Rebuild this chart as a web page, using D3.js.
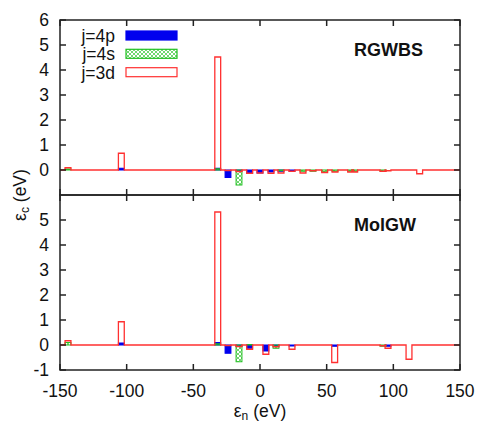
<!DOCTYPE html>
<html><head><meta charset="utf-8">
<script src="https://cdn.jsdelivr.net/npm/d3@7"></script>
<style>body{margin:0;background:#fff}svg{display:block}text{font-family:"Liberation Sans",Arial,sans-serif}</style>
</head><body><svg id="c" width="479" height="425"></svg>
<script>
// ---- data ----
const seriesNames = ["j=4p","j=4s","j=3d"];
const xTicks = [-150,-100,-50,0,50,100,150];
const yTicksTop = [0,1,2,3,4,5,6];
const yTicksBottom = [-1,0,1,2,3,4,5];
const boxWidth = 4.4; // eV

// RGWBS panel
const topEnergy = [-144,-104,-31.7,-24,-15.75,-7.75,0,8.25,15.75,24,32.25,39.75,48.5,56.25,68,71,92.25,96,119.75];
const top4p =     [0,0.07,0.07,-0.3,-0.04,-0.13,-0.12,-0.08,-0.05,-0.05,0,0,0,0,0,0,0,0,0];
const top4s =     [0.04,0,0.05,0,-0.6,0,0,0,-0.03,0,-0.05,-0.05,-0.07,-0.05,-0.05,-0.05,-0.05,0,0];
const top3d =     [0.09,0.67,4.52,-0.02,-0.06,-0.13,-0.12,-0.13,-0.12,-0.05,-0.12,-0.03,-0.1,-0.08,-0.08,-0.08,-0.05,-0.03,-0.15];

// MolGW panel
const botEnergy = [-144,-104,-31.7,-24,-15.75,-7.75,4.4,12,24,56,92.25,96,111.75];
const bot4p =     [0,0.08,0.1,-0.33,-0.05,-0.13,-0.24,-0.03,-0.04,-0.05,0,-0.05,0];
const bot4s =     [0.1,0,0.05,0,-0.67,0.02,0,-0.13,0,0,-0.05,0,0];
const bot3d =     [0.17,0.93,5.32,-0.02,-0.06,-0.17,-0.37,-0.07,-0.17,-0.7,-0.03,-0.13,-0.57];

const panelLabels = ["RGWBS","MolGW"];

// ---- drawing ----
const svg = d3.select("#c");
const L=60, R=460;
const x = d3.scaleLinear([-150,150],[L,R]);
const panels = [
  {y: d3.scaleLinear([-1,6],[195,20]), e: topEnergy, p: top4p, s: top4s, d: top3d, ticks: yTicksTop, label: panelLabels[0], legend: true},
  {y: d3.scaleLinear([-1,6],[370,195]), e: botEnergy, p: bot4p, s: bot4s, d: bot3d, ticks: yTicksBottom, label: panelLabels[1], legend: false}
];
const BLUE="#0000ee", GREEN="#20c020", RED="#ff3030", AX="#222";

const defs = svg.append("defs");
const pat = defs.append("pattern").attr("id","xh").attr("patternUnits","userSpaceOnUse")
  .attr("width",4).attr("height",4);
pat.append("path").attr("d","M0,0L4,4M4,0L0,4").attr("stroke",GREEN).attr("stroke-width",0.8).attr("stroke-opacity",0.8);

panels.forEach(P => {
  const y = P.y;
  const g = svg.append("g");
  const idx = d3.range(P.e.length);
  // 4p boxes
  g.selectAll(null).data(idx.filter(i=>P.p[i]!==0)).join("rect")
    .attr("x", i=>x(P.e[i]-boxWidth/2)).attr("width", i=>x(P.e[i]+boxWidth/2)-x(P.e[i]-boxWidth/2))
    .attr("y", i=>Math.min(y(0),y(P.p[i]))).attr("height", i=>Math.abs(y(P.p[i])-y(0)))
    .attr("fill",BLUE).attr("stroke",BLUE).attr("stroke-width",1);
  // 4s boxes
  g.selectAll(null).data(idx.filter(i=>P.s[i]!==0)).join("rect")
    .attr("x", i=>x(P.e[i]-boxWidth/2)).attr("width", i=>x(P.e[i]+boxWidth/2)-x(P.e[i]-boxWidth/2))
    .attr("y", i=>Math.min(y(0),y(P.s[i]))).attr("height", i=>Math.abs(y(P.s[i])-y(0)))
    .attr("fill","url(#xh)").attr("stroke",GREEN).attr("stroke-width",1);
  // 3d outline (step path over all boxes)
  const pts = [[-150,0]];
  idx.forEach(i=>{
    const a=P.e[i]-boxWidth/2, b=P.e[i]+boxWidth/2, v=P.d[i];
    pts.push([a,0],[a,v],[b,v],[b,0]);
  });
  pts.push([150,0]);
  g.append("path").attr("d", d3.line().x(d=>x(d[0])).y(d=>y(d[1]))(pts))
    .attr("fill","none").attr("stroke",RED).attr("stroke-width",1.3);

  // frame
  const [yb,yt] = y.range();
  svg.append("rect").attr("x",L).attr("y",yt).attr("width",R-L).attr("height",yb-yt)
    .attr("fill","none").attr("stroke",AX).attr("stroke-width",1.5);
  // ticks
  const tl=6;
  xTicks.forEach(t=>{
    svg.append("line").attr("x1",x(t)).attr("x2",x(t)).attr("y1",yt).attr("y2",yt+tl).attr("stroke",AX).attr("stroke-width",1.5);
    svg.append("line").attr("x1",x(t)).attr("x2",x(t)).attr("y1",yb).attr("y2",yb-tl).attr("stroke",AX).attr("stroke-width",1.5);
  });
  P.ticks.forEach(t=>{
    svg.append("line").attr("x1",L).attr("x2",L+tl).attr("y1",y(t)).attr("y2",y(t)).attr("stroke",AX).attr("stroke-width",1.5);
    svg.append("line").attr("x1",R).attr("x2",R-tl).attr("y1",y(t)).attr("y2",y(t)).attr("stroke",AX).attr("stroke-width",1.5);
    svg.append("text").attr("x",49).attr("y",y(t)).attr("dy","0.36em").attr("text-anchor","end")
      .attr("font-size",17.5).attr("fill","#111").text(t);
  });
  svg.append("text").attr("x",354).attr("y",yt+36).attr("font-size",18).attr("font-weight","bold")
    .attr("fill","#111").text(P.label);

  if (P.legend) {
    const rows=[35.5,53.8,72.2];
    const styles=[{fill:BLUE,stroke:BLUE},{fill:"url(#xh)",stroke:GREEN},{fill:"#fff",stroke:RED}];
    seriesNames.forEach((n,k)=>{
      svg.append("text").attr("x",115).attr("y",rows[k]).attr("dy","0.36em").attr("text-anchor","end")
        .attr("font-size",17.5).attr("fill","#111").text(n);
      svg.append("rect").attr("x",126).attr("y",rows[k]-4.5).attr("width",51).attr("height",9)
        .attr("fill",styles[k].fill).attr("stroke",styles[k].stroke).attr("stroke-width",1.2);
    });
  }
});

// x tick labels
xTicks.forEach(t=>{
  svg.append("text").attr("x",x(t)).attr("y",397).attr("text-anchor","middle")
    .attr("font-size",17.5).attr("fill","#111").text(t);
});
// axis titles
const xl = svg.append("text").attr("x",260).attr("y",417).attr("text-anchor","middle").attr("font-size",17.5).attr("fill","#111");
xl.append("tspan").text("ε");
xl.append("tspan").attr("font-size",12).attr("dy",3).text("n");
xl.append("tspan").attr("dy",-3).text(" (eV)");
const yl = svg.append("text").attr("transform","translate(26,195) rotate(-90)").attr("text-anchor","middle").attr("font-size",17.5).attr("fill","#111");
yl.append("tspan").text("ε");
yl.append("tspan").attr("font-size",12).attr("dy",3).text("c");
yl.append("tspan").attr("dy",-3).text(" (eV)");
</script></body></html>
